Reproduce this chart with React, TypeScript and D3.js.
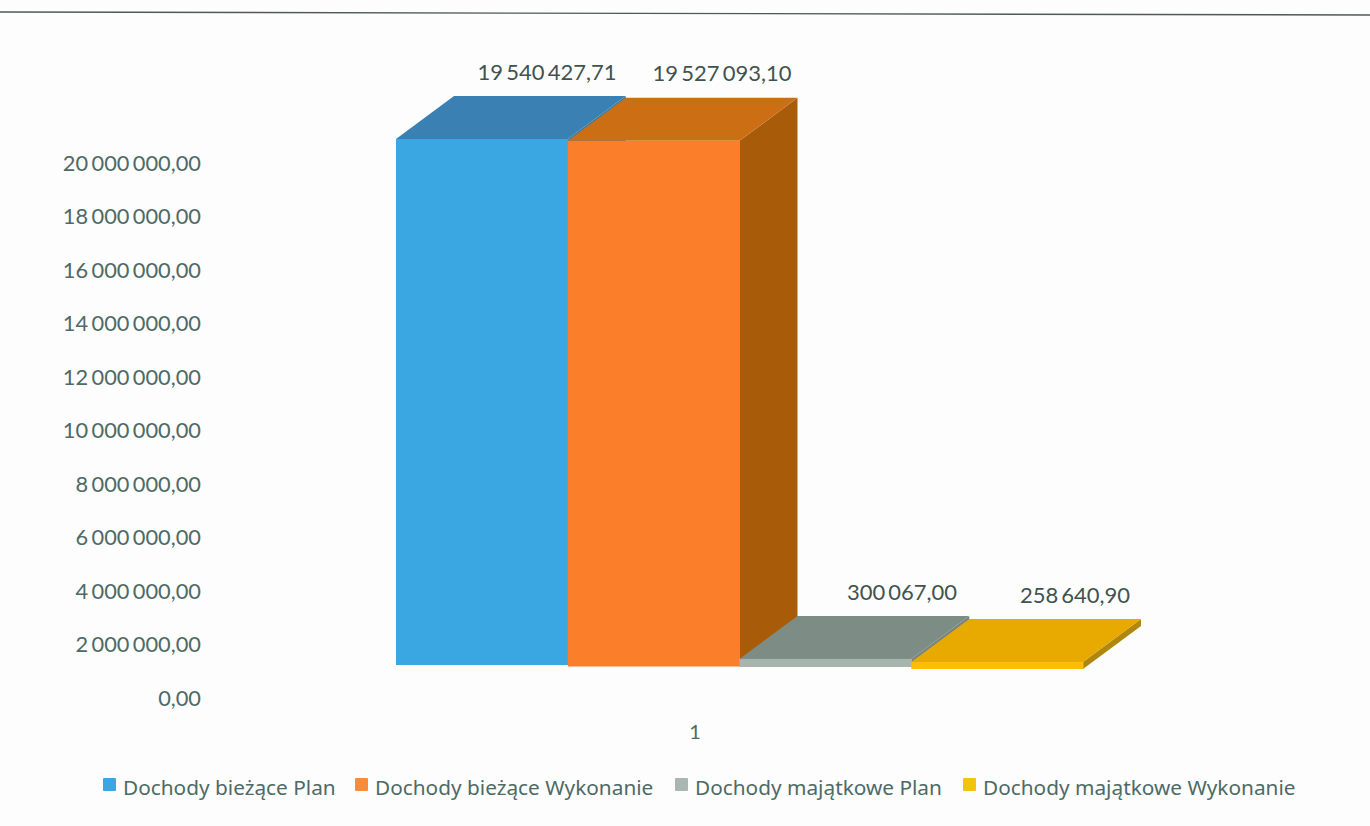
import React from "react";
import * as d3 from "d3";

const series = ["Dochody bieżące Plan", "Dochody bieżące Wykonanie", "Dochody majątkowe Plan", "Dochody majątkowe Wykonanie"];
const values = [19540427.71, 19527093.1, 300067.0, 258640.9];
const valueLabels = ["19 540 427,71", "19 527 093,10", "300 067,00", "258 640,90"];
const frontColors = ["#3aa6e2", "#fb7f2b", "#a7b5ae", "#fbbd05"];
const topColors = ["#3a80b2", "#cc6f14", "#7d8d86", "#e8a900"];
const sideColors = ["#2f7fae", "#a85c0a", "#77857f", "#b0860c"];
const legendColors = ["#3aa6e2", "#f98c38", "#aab6b2", "#f5c211"];
const ticks = [0, 2, 4, 6, 8, 10, 12, 14, 16, 18, 20].map((d) => d * 1e6);
const tickLabels = ["0,00", "2 000 000,00", "4 000 000,00", "6 000 000,00", "8 000 000,00", "10 000 000,00", "12 000 000,00", "14 000 000,00", "16 000 000,00", "18 000 000,00", "20 000 000,00"];
const legendX = [103, 355, 675, 963];
const labelX = [547, 722, 902, 1075];
const labelY = [71, 72, 591, 594];
const baseY = [665, 666.5, 667, 669];

const FONT = "Lato, 'Open Sans', sans-serif";
const TEXT = "#4d6a66";

export default function App() {
  const axisY = d3.scaleLinear().domain([0, 20e6]).range([697, 162]);
  const x = d3.scaleBand().domain(series).range([396, 1083]).paddingInner(0).paddingOuter(0);
  const h = d3.scaleLinear().domain([0, 19540427.71]).range([0, 526]);
  const dx = 58;
  const dy = -43;
  const poly = (p: [number, number][]) => d3.line()(p) + "Z";
  return (
    <svg width={1370} height={826} style={{ position: "absolute", left: 0, top: 0, background: "#fdfdfd" }}>
      <line x1={0} y1={12} x2={1370} y2={15} stroke="#4d5a55" strokeWidth={1.4} />
      {ticks.map((t, i) => (
        <text key={t} x={201} y={axisY(t)} textAnchor="end" dominantBaseline="central" fontFamily={FONT} fontSize={21.8} wordSpacing={-2.2} fill={TEXT}>
          {tickLabels[i]}
        </text>
      ))}
      {series.map((s, i) => {
        const x0 = x(s)!;
        const x1 = x0 + x.bandwidth();
        const b = baseY[i];
        const t = b - h(values[i]);
        return (
          <g key={s}>
            <path d={poly([[x1, b], [x1 + dx, b + dy], [x1 + dx, t + dy], [x1, t]])} fill={sideColors[i]} />
            <path d={poly([[x0, t], [x0 + dx, t + dy], [x1 + dx, t + dy], [x1, t]])} fill={topColors[i]} />
          </g>
        );
      })}
      {series.map((s, i) => {
        const x0 = x(s)!;
        const b = baseY[i];
        const t = b - h(values[i]);
        return <rect key={s} x={x0} y={t} width={x.bandwidth() + 0.5} height={b - t} fill={frontColors[i]} />;
      })}
      {series.map((s, i) => (
        <text key={s} x={labelX[i]} y={labelY[i]} textAnchor="middle" dominantBaseline="central" fontFamily={FONT} fontSize={22} wordSpacing={-2.5} fill="#3f5350">
          {valueLabels[i]}
        </text>
      ))}
      <text x={695} y={731} textAnchor="middle" dominantBaseline="central" fontFamily={FONT} fontSize={20} fill={TEXT}>1</text>
      {series.map((s, i) => (
        <g key={s}>
          <rect x={legendX[i]} y={778} width={13} height={13} rx={1} fill={legendColors[i]} />
          <text x={legendX[i] + 20} y={787} dominantBaseline="central" fontFamily="'Noto Sans', sans-serif" fontSize={20.8} fill={TEXT}>
            {s}
          </text>
        </g>
      ))}
    </svg>
  );
}
